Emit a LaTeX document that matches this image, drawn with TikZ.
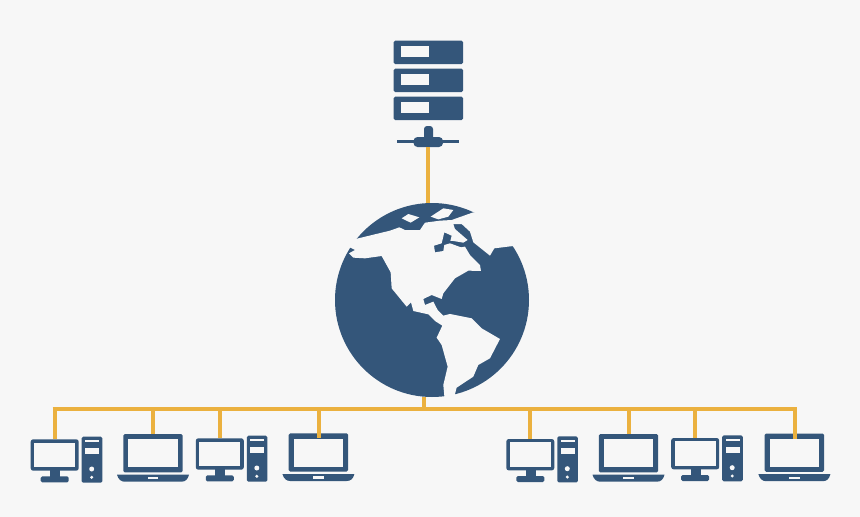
\documentclass[tikz,border=0pt]{standalone}
\usepackage{xcolor}
\definecolor{netblue}{RGB}{52,86,122}
\definecolor{netwire}{RGB}{235,177,63}
\definecolor{netback}{RGB}{247,247,247}
\tikzset{
    iconbody/.style={fill=netblue,draw=none},
    iconhole/.style={fill=netback,draw=none},
    wire/.style={draw=netwire,line width=4pt},
    desktop/.pic={
        \coordinate (-top) at (0,0);
        \fill[iconbody,rounded corners=2.5pt] (-24,0) rectangle (24,31.4);
        \fill[iconhole] (-20.7,3.3) rectangle (20.6,28);
        \fill[iconbody] (-4.7,31) rectangle (5.3,38);
        \fill[iconbody,rounded corners=1.5pt] (-14,37) rectangle (14,43);
        \fill[iconbody,rounded corners=1.5pt] (27,-2.6) rectangle (47.6,43.4);
        \fill[iconhole] (30.6,0.7) rectangle (44.6,3);
        \fill[iconhole] (30.6,8.7) rectangle (44.6,14.7);
        \fill[iconhole] (37,29.7) circle (2.5);
        \fill[iconhole] (37,38) circle (1.7);
    },
    laptop/.pic={
        \coordinate (-top) at (0,0);
        \coordinate (-tip) at (0,5);
        \fill[iconbody,rounded corners=1.5pt] (-30,0) rectangle (29.4,38.3);
        \fill[iconhole] (-25,5.3) rectangle (24.4,33.3);
        \fill[iconbody] (-36.3,40.7) -- (35.7,40.7) .. controls (34.5,45.5) and (32,47.7) .. (28,47.7)
            -- (-28.6,47.7) .. controls (-32,47.7) and (-35,45.5) .. (-36.3,40.7) -- cycle;
        \fill[iconhole] (-5.6,43) rectangle (5,45.3);
    },
    rackserver/.pic={
        \coordinate (-bottom) at (428,147);
        \foreach \y in {40.7,68.7,96.7} {
            \fill[iconbody,rounded corners=1.5pt] (393.7,\y) rectangle (463,\y+23.3);
            \fill[iconhole] (400.7,\y+5.3) rectangle (428.7,\y+16.6);
        }
        \fill[iconbody] (397,139.5) rectangle (459,142.5);
        \fill[iconbody,rounded corners=3pt] (424,126) rectangle (433,140);
        \fill[iconbody,rounded corners=4pt] (413.5,137) rectangle (443,147);
    },
}
\begin{document}
\begin{tikzpicture}[x=1pt,y=-1pt]
    \useasboundingbox[fill=netback] (0,0) rectangle (860,517);

    % server and globe
    \pic (server) at (0,0) {rackserver};
    \node[circle,fill=netblue,inner sep=0pt,minimum size=194pt] (globe) at (432,300) {};
    \coordinate (bustap) at (424,409);
    \coordinate (busleft) at (52.7,409);
    \coordinate (busright) at (796.7,409);
    \draw[wire] (server-bottom) -- (server-bottom |- globe.north);
    \draw[wire] (bustap) -- (bustap |- globe.south);

    % land, traced in thirds of a pixel
    \begin{scope}[shift={(325,195)},x=0.3333pt,y=-0.3333pt]
        \fill[iconhole] (100,130) -- (195,107) -- (223,97) -- (240,105) -- (285,105) -- (300,83) -- (345,77)
            -- (380,75) -- (445,52) -- (640,60) -- (565,153) -- (508,160) -- (495,182) -- (445,142)
            -- (435,110) -- (410,87) -- (385,87) -- (390,102) -- (428,135) -- (415,143) -- (385,138)
            -- (376,138) -- (380,122) -- (358,112) -- (350,145) -- (327,152) -- (330,172) -- (355,168)
            -- (358,150) -- (375,145) -- (408,157) -- (420,155) -- (435,180) -- (465,210) -- (468,228)
            -- (430,227) -- (390,250) -- (355,295) -- (350,312)
            -- (320,300) -- (295,312) -- (300,330) -- (325,320) -- (338,345) -- (355,362) -- (375,357)
            -- (440,370) -- (470,400) -- (525,432) -- (495,490) -- (460,510) -- (445,545) -- (395,578)
            -- (390,597) -- (390,640) -- (358,640) -- (358,603) -- (355,570) -- (368,515) -- (350,450)
            -- (335,428) -- (352,392) -- (330,378) -- (310,358) -- (265,348) -- (258,322) -- (245,335)
            -- (200,280) -- (197,232) -- (170,183) -- (120,190) -- (85,188) -- (72,175) -- (90,165)
            -- (60,150) -- (20,150) -- cycle;
        \fill[iconhole] (230,70) -- (250,57) -- (283,67) -- (257,83) -- cycle;
        \fill[iconhole] (317,65) -- (355,40) -- (385,45) -- (370,65) -- (340,73) -- cycle;
    \end{scope}

    % bus and drops
    \foreach \name/\kind/\xpos/\ypos in {desk1/desktop/54.7/439.3,lap1/laptop/153.3/434,
        desk2/desktop/219.8/438.3,lap2/laptop/318.7/433.3,desk3/desktop/530.3/439,
        lap3/laptop/628.8/434,desk4/desktop/695.2/438,lap4/laptop/794.7/433.5} {
        \pic (\name) at (\xpos,\ypos) {\kind};
        \draw[wire] (\name-top) -- (\name-top |- busleft);
    }
    \draw[wire] (lap2-tip) -- (lap2-top);
    \draw[wire] (lap4-tip) -- (lap4-top);
    \draw[wire] (busleft) -- (busright);
\end{tikzpicture}
\end{document}
